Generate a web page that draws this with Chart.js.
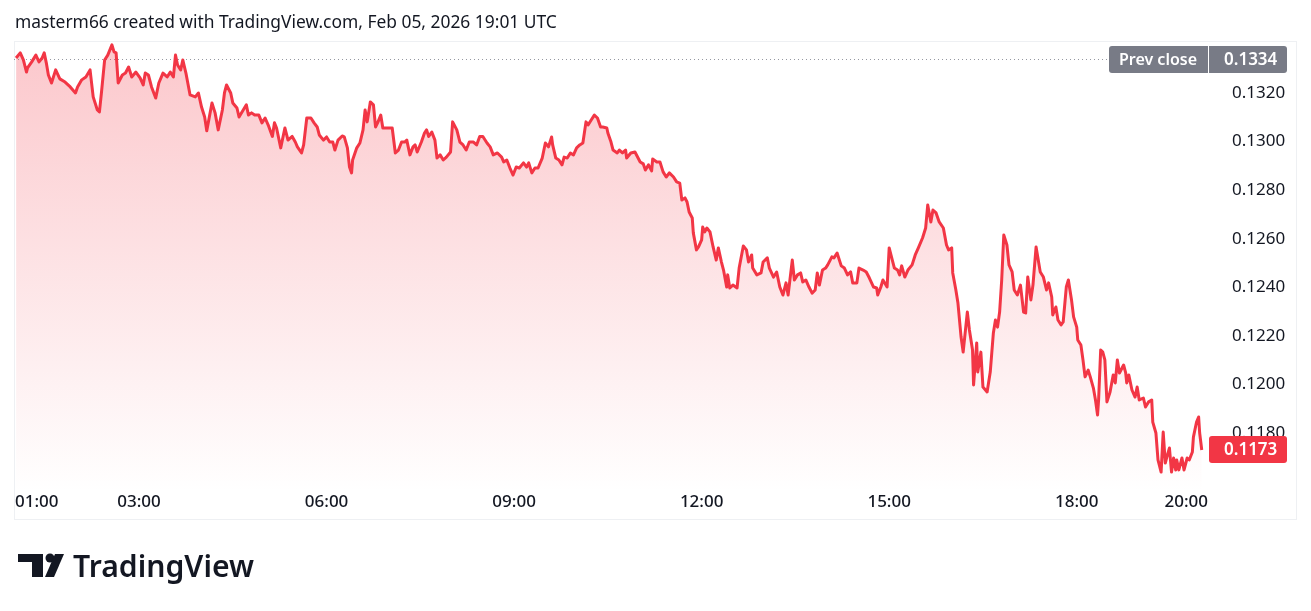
<!DOCTYPE html>
<html>
<head>
<meta charset="utf-8">
<script src="https://cdn.jsdelivr.net/npm/chart.js@4"></script>
<style>
  html, body { margin: 0; padding: 0; background: #ffffff; }
  #wrap { width: 1311px; height: 611px; }
</style>
</head>
<body>
<div id="wrap"><canvas id="priceChart" width="1311" height="611"></canvas></div>
<script>
// time of each sample, minutes after midnight (chart local time)
var times = [
  62,66,69,72,73,77,81,84,87,89,
  91,93,96,100,104,109,114,119,121,125,
  129,133,136,140,142,144,147,150,154,156,
  158,160,164,167,170,173,177,181,184,186,
  189,192,196,199,203,207,210,213,215,217,
  220,222,225,229,234,237,240,243,245,
  250,253,256,260,262,264,268,270,274,276,
  280,283,285,288,291,295,298,301,304,308,
  310,312,316,320,323,327,330,332,336,338,
  341,345,348,351,353,357,360,363,366,368,
  371,375,377,380,382,384,385,389,392,395,
  397,399,402,405,407,409,412,414,419,423,
  426,429,
  432,435,437,440,443,445,447,451,454,456,
  458,461,464,466,469,472,475,479,481,485,
  488,491,494,497,501,504,507,510,514,517,
  520,524,528,530,533,536,539,542,545,549,
  552,554,557,560,563,567,570,573,576,577,
  580,583,586,588,591,594,597,600,603,606,
  609,611,614,617,620,623,625,629,630,633,
  635,639,641,644,647,648,652,656,
  661,664,666,669,672,673,677,680,683,686,
  689,693,696,699,701,704,706,708,711,712,
  715,717,720,721,723,725,728,731,734,736,
  739,741,744,745,747,750,754,756,760,763,
  765,768,769,773,777,779,783,785,789,792,
  795,798,801,803,807,809,812,815,817,820,
  823,826,829,831,833,836,839,841,845,847,
  850,854,857,860,863,
  865,869,871,875,878,881,885,888,889,892,
  894,898,900,903,905,908,910,912,915,918,
  922,925,928,932,935,937,940,942,945,948,
  952,955,957,960,961,964,966,969,971,975,
  977,980,981,984,985,988,990,994,997,1000,
  1002,1004,1006,1008,1010,1013,1015,1018,1020,1023,
  1026,1029,1031,1033,1036,1038,
  1041,1045,1048,1051,1053,1056,1057,1060,1062,1065,
  1067,1070,1072,1075,1077,1080,1081,1084,1086,1088,
  1091,1093,1096,1098,1100,1101,1103,1105,1107,1109,
  1112,1115,1117,1119,1121,1125,1127,1128,1130,1133,
  1136,1138,1140,1144,1146,1149,1152,1153,1156,1158,
  1161,1163,1165,1167,1169,1171,1173,1175,1176,1178,
  1181,1183,1186,1188,1191,1192,1195,1197,1198,1200
];

var prices = [
  0.13344,0.13365,0.13336,0.13286,0.13303,0.13328,0.13356,0.13328,0.13344,0.13365,
  0.13324,0.13274,0.13241,0.13295,0.13258,0.13245,0.13225,0.13200,0.13225,0.13254,
  0.13266,0.13295,0.13184,0.13130,0.13122,0.13204,0.13336,0.13356,0.13398,0.13369,
  0.13365,0.13241,0.13274,0.13282,0.13307,0.13266,0.13286,0.13262,0.13233,0.13282,
  0.13274,0.13225,0.13179,0.13241,0.13282,0.13266,0.13286,0.13266,0.13356,0.13315,
  0.13295,0.13336,0.13282,0.13192,0.13184,0.13200,0.13142,0.13101,0.13044,
  0.13159,0.13118,0.13048,0.13130,0.13200,0.13233,0.13200,0.13159,0.13138,0.13101,
  0.13130,0.13151,0.13109,0.13118,0.13109,0.13109,0.13077,0.13097,0.13068,0.13021,
  0.13077,0.13056,0.12974,0.13056,0.13006,0.13021,0.12998,0.12978,0.12953,0.12986,
  0.13097,0.13097,0.13077,0.13060,0.13027,0.13006,0.13019,0.12998,0.12998,0.12965,
  0.13006,0.13023,0.13019,0.12974,0.12895,0.12871,0.12924,0.12974,0.12994,0.13048,
  0.13130,0.13081,0.13163,0.13151,0.13060,0.13077,0.13109,0.13056,0.13056,0.13056,
  0.12953,0.12965,
  0.12998,0.12998,0.13006,0.12945,0.12978,0.12986,0.12957,0.12998,0.13035,0.13048,
  0.13021,0.13039,0.13006,0.12932,0.12945,0.12924,0.12936,0.12957,0.13081,0.13048,
  0.12998,0.12986,0.12965,0.12998,0.12998,0.12986,0.13021,0.13021,0.12994,0.12978,
  0.12945,0.12953,0.12936,0.12916,0.12924,0.12891,0.12862,0.12895,0.12891,0.12912,
  0.12895,0.12912,0.12871,0.12891,0.12891,0.12932,0.12994,0.12978,0.13019,0.12986,
  0.12932,0.12924,0.12904,0.12936,0.12932,0.12953,0.12945,0.12974,0.12986,0.12994,
  0.13081,0.13068,0.13089,0.13109,0.13097,0.13060,0.13060,0.13056,0.13035,0.12998,
  0.12965,0.12953,0.12965,0.12953,0.12965,0.12932,0.12953,0.12957,
  0.12916,0.12908,0.12883,0.12904,0.12879,0.12928,0.12916,0.12916,0.12875,0.12854,
  0.12871,0.12854,0.12834,0.12829,0.12759,0.12768,0.12751,0.12710,0.12685,0.12624,
  0.12554,0.12566,0.12595,0.12648,0.12628,0.12644,0.12628,0.12566,0.12512,0.12562,
  0.12504,0.12471,0.12401,0.12451,0.12397,0.12409,0.12397,0.12479,0.12570,0.12554,
  0.12504,0.12533,0.12479,0.12451,0.12459,0.12504,0.12521,0.12479,0.12442,0.12463,
  0.12401,0.12368,0.12418,0.12368,0.12512,0.12430,0.12451,0.12459,0.12422,0.12430,
  0.12401,0.12376,0.12389,0.12459,0.12409,0.12471,0.12479,0.12492,0.12525,0.12521,
  0.12541,0.12488,0.12479,0.12451,0.12463,
  0.12418,0.12418,0.12479,0.12471,0.12463,0.12438,0.12401,0.12397,0.12368,0.12401,
  0.12430,0.12401,0.12562,0.12512,0.12479,0.12471,0.12451,0.12488,0.12442,0.12471,
  0.12492,0.12533,0.12562,0.12603,0.12644,0.12739,0.12669,0.12718,0.12706,0.12669,
  0.12644,0.12574,0.12554,0.12562,0.12459,0.12389,0.12335,0.12195,0.12133,0.12298,
  0.12224,0.12142,0.11998,0.12171,0.12051,0.12133,0.11989,0.11969,0.12051,0.12212,
  0.12265,0.12236,0.12298,0.12430,0.12615,0.12574,0.12492,0.12463,0.12389,0.12368,
  0.12409,0.12298,0.12294,0.12442,0.12348,0.12409,
  0.12566,0.12463,0.12442,0.12389,0.12418,0.12360,0.12286,0.12319,0.12265,0.12245,
  0.12257,0.12401,0.12430,0.12348,0.12278,0.12236,0.12183,0.12162,0.12101,0.12031,
  0.12059,0.12031,0.11985,0.11936,0.11874,0.11936,0.12142,0.12133,0.12101,0.11928,
  0.11969,0.12039,0.12006,0.12101,0.12047,0.12080,0.12047,0.12006,0.12039,0.11977,
  0.11948,0.11989,0.11936,0.11944,0.11907,0.11928,0.11936,0.11845,0.11800,0.11689,
  0.11639,0.11804,0.11676,0.11709,0.11738,0.11639,0.11697,0.11648,0.11689,0.11648,
  0.11697,0.11648,0.11697,0.11689,0.11722,0.11783,0.11845,0.11866,0.11800,0.11730
];

var timeTicks = [60, 180, 360, 540, 720, 900, 1080, 1200];
var priceTicks = [0.1180, 0.1200, 0.1220, 0.1240, 0.1260, 0.1280, 0.1300, 0.1320];
var prevClose = 0.1334;
var lastPrice = 0.1173;
var titleText = 'masterm66 created with TradingView.com, Feb 05, 2026 19:01 UTC';

if (times.length !== prices.length) console.error('length mismatch', times.length, prices.length);

var RED = '#F23645';
var INK = '#131722';
var FONT = '"Noto Sans", "DejaVu Sans", sans-serif';

function hhmm(m) {
  var h = Math.floor(m / 60), mm = m % 60;
  return (h < 10 ? '0' : '') + h + ':' + (mm < 10 ? '0' : '') + mm;
}

function roundRect(ctx, x, y, w, h, r) {
  ctx.beginPath();
  ctx.moveTo(x + r, y);
  ctx.lineTo(x + w - r, y);
  ctx.quadraticCurveTo(x + w, y, x + w, y + r);
  ctx.lineTo(x + w, y + h - r);
  ctx.quadraticCurveTo(x + w, y + h, x + w - r, y + h);
  ctx.lineTo(x + r, y + h);
  ctx.quadraticCurveTo(x, y + h, x, y + h - r);
  ctx.lineTo(x, y + r);
  ctx.quadraticCurveTo(x, y, x + r, y);
  ctx.closePath();
}

var decor = {
  id: 'tvDecor',
  beforeDraw: function(chart) {
    var ctx = chart.ctx;
    ctx.save();
    ctx.fillStyle = '#ffffff';
    ctx.fillRect(0, 0, chart.width, chart.height);
    // frame around plot + axes
    ctx.strokeStyle = '#eef0f3';
    ctx.lineWidth = 1;
    ctx.strokeRect(14.5, 41.5, 1282, 478);
    ctx.restore();
  },
  beforeDatasetsDraw: function(chart) {
    var ctx = chart.ctx, a = chart.chartArea;
    var y = Math.round(chart.scales.y.getPixelForValue(prevClose)) + 0.5;
    ctx.save();
    ctx.strokeStyle = '#9598a1';
    ctx.lineWidth = 1;
    ctx.setLineDash([1, 3]);
    ctx.beginPath();
    ctx.moveTo(a.left, y);
    ctx.lineTo(1108, y);
    ctx.stroke();
    ctx.restore();
  },
  afterDraw: function(chart) {
    var ctx = chart.ctx, a = chart.chartArea;
    var xs = chart.scales.x, ys = chart.scales.y;
    ctx.save();

    // time axis labels
    ctx.font = '500 17px ' + FONT;
    ctx.fillStyle = INK;
    ctx.textBaseline = 'alphabetic';
    ctx.textAlign = 'left';
    timeTicks.forEach(function(t) {
      var label = hhmm(t);
      var w = ctx.measureText(label).width;
      var left = xs.getPixelForValue(t) - w / 2;
      if (left < a.left + 1) left = a.left + 1;
      if (left + w > a.right) left = a.right - w;
      ctx.fillText(label, left, 507);
    });

    // prev close tag
    var py = ys.getPixelForValue(prevClose);
    ctx.fillStyle = '#787b86';
    roundRect(ctx, 1109, py - 13, 178, 27, 3);
    ctx.fill();
    ctx.fillStyle = '#ffffff';
    ctx.fillRect(1208, py - 13, 1, 27);
    ctx.font = '600 16px ' + FONT;
    ctx.textBaseline = 'middle';
    ctx.textAlign = 'center';
    ctx.fillText('Prev close', 1158, py + 1);
    ctx.font = '600 17px ' + FONT;
    ctx.textAlign = 'left';
    ctx.fillText(prevClose.toFixed(4), 1224, py + 1);

    // last price tag
    var ly = ys.getPixelForValue(lastPrice);
    ctx.fillStyle = RED;
    roundRect(ctx, 1209, ly - 14, 78, 27, 3);
    ctx.fill();
    ctx.fillStyle = '#ffffff';
    ctx.font = '600 17px ' + FONT;
    ctx.fillText(lastPrice.toFixed(4), 1224, ly);

    // header
    ctx.fillStyle = INK;
    ctx.textBaseline = 'alphabetic';
    ctx.font = '16px ' + FONT;
    var tw = ctx.measureText(titleText).width;
    ctx.font = (16 * 542 / tw).toFixed(2) + 'px ' + FONT;
    ctx.fillText(titleText, 15, 28);

    // logo mark
    ctx.fillStyle = INK;
    ctx.fillRect(18, 554, 25, 8);
    ctx.fillRect(32, 554, 11, 23);
    ctx.beginPath();
    ctx.arc(50, 558, 4.5, 0, Math.PI * 2);
    ctx.fill();
    ctx.beginPath();
    ctx.moveTo(55, 554);
    ctx.lineTo(64, 554);
    ctx.lineTo(54, 577);
    ctx.lineTo(45, 577);
    ctx.closePath();
    ctx.fill();

    // wordmark
    ctx.font = '600 31px ' + FONT;
    var ww = ctx.measureText('TradingView').width;
    ctx.translate(73, 577);
    ctx.scale(181 / ww, 1);
    ctx.fillText('TradingView', 0, 0);
    ctx.restore();
  }
};

var ctx = document.getElementById('priceChart').getContext('2d');
var priceChart = new Chart(ctx, {
  type: 'line',
  data: {
    datasets: [{
      label: 'Price',
      data: times.map(function(t, i) { return { x: t, y: prices[i] }; }),
      borderColor: RED,
      borderWidth: 3,
      borderJoinStyle: 'round',
      pointRadius: 0,
      tension: 0,
      fill: 'start',
      backgroundColor: function(context) {
        var area = context.chart.chartArea;
        if (!area) return 'rgba(242,54,69,0.2)';
        var g = context.chart.ctx.createLinearGradient(0, area.top, 0, area.bottom);
        g.addColorStop(0, 'rgba(242,54,69,0.28)');
        g.addColorStop(1, 'rgba(242,54,69,0.0)');
        return g;
      }
    }]
  },
  options: {
    responsive: false,
    animation: false,
    devicePixelRatio: 1,
    layout: { autoPadding: false, padding: { left: 14, top: 41, right: 14, bottom: 119 } },
    plugins: { legend: { display: false }, tooltip: { enabled: false } },
    scales: {
      x: {
        type: 'linear',
        display: false,
        min: 60,
        max: 1206
      },
      y: {
        position: 'right',
        min: 0.11557,
        max: 0.13414,
        grid: { display: false },
        border: { display: false },
        afterBuildTicks: function(scale) {
          scale.ticks = priceTicks.map(function(v) { return { value: v }; });
        },
        afterFit: function(scale) { scale.width = 89; },
        ticks: {
          padding: 16,
          color: INK,
          font: { family: FONT, size: 17 },
          callback: function(v) { return Number(v).toFixed(4); }
        }
      }
    }
  },
  plugins: [decor]
});
</script>
</body>
</html>
